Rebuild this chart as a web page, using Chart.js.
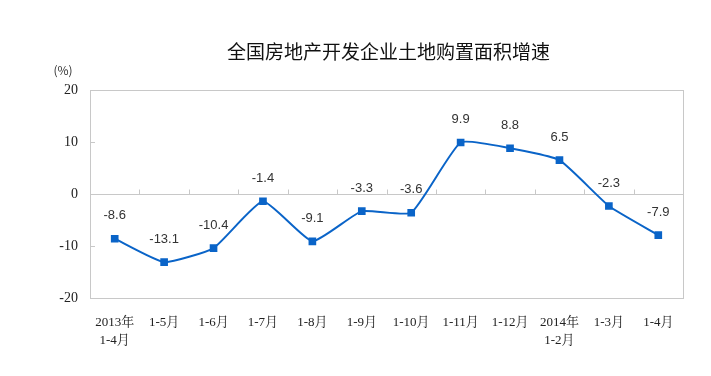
<!DOCTYPE html>
<html>
<head>
<meta charset="utf-8">
<script src="https://cdn.jsdelivr.net/npm/chart.js@4"></script>
<style>
  html, body { margin: 0; padding: 0; background: #fff; }
  #wrap { width: 711px; height: 376px; }
</style>
</head>
<body>
<div id="wrap"><canvas id="chart1" width="711" height="376"></canvas></div>
<script>
// chart data
const categories = [['2013年', '1-4月'], '1-5月', '1-6月', '1-7月', '1-8月', '1-9月',
                    '1-10月', '1-11月', '1-12月', ['2014年', '1-2月'], '1-3月', '1-4月'];
const growth = [-8.6, -13.1, -10.4, -1.4, -9.1, -3.3,
                -3.6, 9.9, 8.8, 6.5, -2.3, -7.9];
const yTicks = [-20, -10, 0, 10, 20];
const chartTitle = '全国房地产开发企业土地购置面积增速';
const unitLabel = '(%)';

const lineColor = '#0a64c8';

// title, frame, small ticks, unit label and value labels
const extras = {
    id: 'extras',
    afterDraw(chart) {
        const ctx = chart.ctx;
        const a = chart.chartArea;
        const xs = chart.scales.x;
        const ys = chart.scales.y;
        ctx.save();

        ctx.fillStyle = '#111';
        ctx.font = '19px "Noto Sans CJK SC"';
        ctx.textAlign = 'center';
        ctx.textBaseline = 'middle';
        ctx.fillText(chartTitle, (a.left + a.right) / 2 + 2, 52);

        ctx.strokeStyle = '#c8c8c8';
        ctx.lineWidth = 1;
        ctx.strokeRect(Math.round(a.left) + 0.5, Math.round(a.top) + 0.5,
                       Math.round(a.right - a.left), Math.round(a.bottom - a.top));
        // category ticks on the zero line
        const y0 = Math.round(ys.getPixelForValue(0)) + 0.5;
        const step = xs.getPixelForValue(1) - xs.getPixelForValue(0);
        ctx.beginPath();
        for (let i = 1; i < categories.length; i++) {
            const x = Math.round(xs.getPixelForValue(i) - step / 2) + 0.5;
            ctx.moveTo(x, y0);
            ctx.lineTo(x, y0 - 5);
        }
        // y ticks pointing inward
        yTicks.forEach(v => {
            const y = Math.round(ys.getPixelForValue(v)) + 0.5;
            ctx.moveTo(a.left, y);
            ctx.lineTo(a.left + 5, y);
        });
        ctx.stroke();

        ctx.fillStyle = '#333';
        ctx.font = '12px "Noto Sans CJK SC"';
        ctx.fillText(unitLabel, 63, 70);

        // value labels
        ctx.font = '13px "Liberation Sans"';
        ctx.fillStyle = '#333';
        const meta = chart.getDatasetMeta(0);
        meta.data.forEach((pt, i) => {
            ctx.fillText(String(growth[i]), pt.x, pt.y - 23);
        });
        ctx.restore();
    }
};

new Chart(document.getElementById('chart1').getContext('2d'), {
    type: 'line',
    data: {
        labels: categories,
        datasets: [{
            data: growth,
            borderColor: lineColor,
            backgroundColor: lineColor,
            borderWidth: 2,
            tension: 0.15,
            pointStyle: 'rect',
            pointRadius: 4,
            pointHoverRadius: 4
        }]
    },
    options: {
        responsive: false,
        animation: false,
        events: [],
        layout: { padding: { top: 90, right: 28, bottom: 0, left: 0 } },
        plugins: {
            legend: { display: false },
            tooltip: { enabled: false },
            title: { display: false }
        },
        scales: {
            x: {
                offset: true,
                grid: { display: false },
                border: { display: false },
                ticks: {
                    autoSkip: false,
                    maxRotation: 0,
                    padding: 7,
                    color: '#222',
                    font: { family: '"Liberation Serif", "Noto Serif CJK SC", "Noto Sans CJK SC"', size: 13, lineHeight: 1.4 }
                },
                afterFit(scale) { scale.height = 78; }
            },
            y: {
                min: -20,
                max: 20,
                afterBuildTicks(scale) { scale.ticks = yTicks.map(v => ({ value: v })); },
                grid: {
                    drawTicks: false,
                    color: ctx => ctx.tick && ctx.tick.value === 0 ? '#c8c8c8' : 'rgba(0,0,0,0)'
                },
                border: { display: false },
                ticks: {
                    padding: 12,
                    color: '#222',
                    font: { family: '"Liberation Serif"', size: 14 }
                },
                afterFit(scale) { scale.width = 90; }
            }
        }
    },
    plugins: [extras]
});
</script>
</body>
</html>
